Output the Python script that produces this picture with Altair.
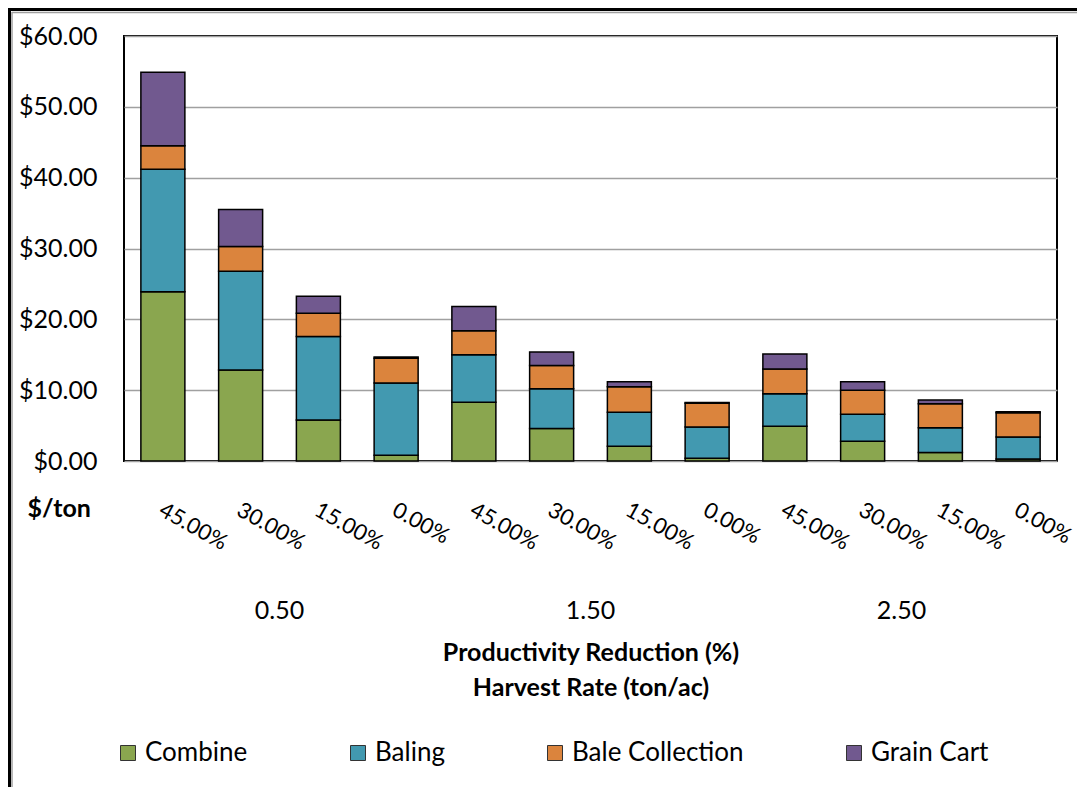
import altair as alt
import pandas as pd

rates = ["0.50", "1.50", "2.50"]
reductions = ["45.00%", "30.00%", "15.00%", "0.00%"]
components = ["Combine", "Baling", "Bale Collection", "Grain Cart"]
colors = ["#8AA64F", "#4299B0", "#DB843D", "#71598F"]

combine = [23.9, 12.85, 5.8, 0.8, 8.3, 4.6, 2.1, 0.4, 4.9, 2.8, 1.2, 0.3]
baling = [17.3, 13.95, 11.76, 10.2, 6.7, 5.6, 4.8, 4.4, 4.6, 3.8, 3.5, 3.1]
bale_collection = [3.3, 3.5, 3.3, 3.5, 3.4, 3.3, 3.6, 3.35, 3.5, 3.4, 3.4, 3.4]
grain_cart = [10.4, 5.2, 2.4, 0.2, 3.4, 1.9, 0.7, 0.1, 2.1, 1.2, 0.5, 0.15]
y_ticks = [0, 10, 20, 30, 40, 50, 60]

FONT = "Lato"
series = [combine, baling, bale_collection, grain_cart]
keys = [f"{r}|{p}" for r in rates for p in reductions]
rows = []
for ci, (comp, vals) in enumerate(zip(components, series)):
    for k, v in zip(keys, vals):
        rows.append({"key": k, "component": comp, "value": v, "order": ci})
df = pd.DataFrame(rows)

bars = alt.Chart(df).mark_bar(stroke="black", strokeWidth=1.5, size=44).encode(
    x=alt.X(
        "key:N", sort=keys,
        scale=alt.Scale(type="band", paddingInner=0.434, paddingOuter=0.217),
        axis=alt.Axis(
            title=None, labelExpr="split(datum.label, '|')[1]", labelAngle=29,
            labelAlign="left", labelBaseline="middle", ticks=False, domain=False,
            grid=False, labelPadding=47, labelOffset=-2, labelFont=FONT,
            labelFontSize=22, labelColor="black", labelOverlap=False, labelBound=False,
            orient="bottom",
        ),
    ),
    y=alt.Y(
        "value:Q", stack="zero",
        scale=alt.Scale(domain=[0, 60], nice=False),
        axis=alt.Axis(
            values=y_ticks, format="$.2f", ticks=False, domain=False,
            labelPadding=27, labelFont=FONT, labelFontSize=25, labelColor="black",
            gridColor="#A0A0A0", gridWidth=1.5,
            title="$/ton", titleAngle=0, titleX=-97, titleY=472, titleAlign="left",
            titleBaseline="middle", titleFont=FONT, titleFontSize=25,
            titleFontWeight="bold", titleColor="black",
        ),
    ),
    color=alt.Color(
        "component:N",
        scale=alt.Scale(domain=components, range=colors),
        legend=alt.Legend(
            title=None, orient="none", legendX=-9, legendY=704, direction="horizontal",
            symbolType="square", symbolSize=225, symbolStrokeColor="#333333",
            symbolStrokeWidth=1, symbolOpacity=1, labelFont=FONT, labelFontSize=26,
            labelColor="black", columnPadding=97, labelOffset=4, padding=0,
            labelLimit=400,
        ),
    ),
    order=alt.Order("order:Q", sort="ascending"),
)

groups = alt.Chart(pd.DataFrame({"rate": rates})).mark_point(opacity=0).encode(
    x=alt.X(
        "rate:N", sort=rates,
        scale=alt.Scale(type="band", paddingInner=0, paddingOuter=0),
        axis=alt.Axis(
            orient="bottom", ticks=False, domain=False, grid=False, labelAngle=0,
            labelPadding=149, labelBaseline="middle", labelFont=FONT, labelFontSize=25,
            labelColor="black",
            title=["Productivity Reduction (%)", "Harvest Rate (ton/ac)"],
            titleFont=FONT, titleFontSize=25, titleFontWeight="bold", titleColor="black",
            titleY=179, titleBaseline="top", titleLineHeight=35,
        ),
    ),
)

dummy = pd.DataFrame({"a": [0]})
frame_left = alt.Chart(dummy).mark_rule(color="black", strokeWidth=3).encode(
    x=alt.value(-114.5), y=alt.value(-28), y2=alt.value(762))
frame_top = alt.Chart(dummy).mark_rule(color="black", strokeWidth=3).encode(
    x=alt.value(-116), x2=alt.value(953), y=alt.value(-26.5))
frame_left2 = alt.Chart(dummy).mark_rule(color="#A0A0A0", strokeWidth=1.5).encode(
    x=alt.value(-112), y=alt.value(-24), y2=alt.value(762))
frame_top2 = alt.Chart(dummy).mark_rule(color="#A0A0A0", strokeWidth=1.5).encode(
    x=alt.value(-112), x2=alt.value(953), y=alt.value(-23.5))

chart = alt.layer(bars, groups, frame_left, frame_top, frame_left2, frame_top2).resolve_scale(
    x="independent"
).properties(
    width=933, height=425,
    autosize=alt.AutoSizeParams(type="none"),
    padding={"left": 116, "top": 28, "right": 20, "bottom": 326},
).configure_view(stroke="black", strokeWidth=2)

chart.save("out.html", embed_options={"renderer": "svg", "actions": False})
